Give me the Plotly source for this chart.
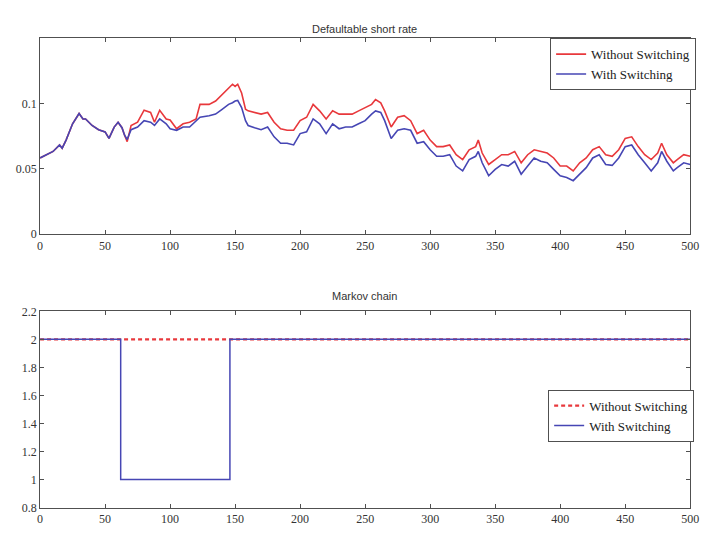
import plotly.graph_objects as go

# ---- data: defaultable short rate ----
t_rate = [0, 5, 10, 15, 17, 20, 25, 30, 33, 35, 40, 45, 50, 53, 57, 60, 63, 65, 67, 70,
          75, 80, 85, 88, 92, 97, 100, 105, 110, 115, 120, 123, 130, 135, 140, 145, 148,
          150, 152, 155, 158, 160, 165, 170, 175, 180, 185, 190, 195, 200, 205, 210, 215,
          220, 225, 230, 235, 240, 245, 250, 255, 258, 262, 265, 270, 275, 280, 285, 290,
          295, 300, 305, 310, 315, 320, 325, 330, 335, 337, 340, 345, 350, 355, 360, 365,
          370, 375, 380, 385, 390, 395, 400, 405, 410, 415, 420, 425, 430, 435, 440, 445,
          450, 455, 460, 465, 470, 475, 478, 482, 487, 490, 495, 500]

rate_with = [0.0584, 0.0609, 0.0634, 0.0684, 0.0659, 0.0721, 0.0846, 0.0925, 0.0883, 0.0883,
             0.0833, 0.0801, 0.0784, 0.0734, 0.0821, 0.0858, 0.0816, 0.0758, 0.0726, 0.0801,
             0.0821, 0.0870, 0.0858, 0.0833, 0.0883, 0.0846, 0.0808, 0.0796, 0.0821, 0.0821,
             0.0870, 0.0896, 0.0908, 0.0920, 0.0957, 0.0995, 0.1007, 0.1020, 0.1025, 0.0970,
             0.0870, 0.0833, 0.0816, 0.0801, 0.0821, 0.0746, 0.0697, 0.0697, 0.0684, 0.0771,
             0.0784, 0.0883, 0.0846, 0.0771, 0.0846, 0.0808, 0.0821, 0.0821, 0.0846, 0.0870,
             0.0920, 0.0945, 0.0933, 0.0870, 0.0734, 0.0796, 0.0808, 0.0796, 0.0697, 0.0709,
             0.0647, 0.0597, 0.0597, 0.0609, 0.0522, 0.0485, 0.0572, 0.0597, 0.0634, 0.0547,
             0.0448, 0.0497, 0.0534, 0.0522, 0.0559, 0.0460, 0.0522, 0.0584, 0.0559, 0.0547,
             0.0497, 0.0448, 0.0435, 0.0410, 0.0460, 0.0510, 0.0584, 0.0609, 0.0534, 0.0527,
             0.0584, 0.0671, 0.0684, 0.0609, 0.0547, 0.0485, 0.0547, 0.0634, 0.0559, 0.0485,
             0.0510, 0.0547, 0.0534]

rate_without = [0.0584, 0.0609, 0.0634, 0.0684, 0.0659, 0.0721, 0.0846, 0.0925, 0.0883, 0.0883,
                0.0833, 0.0801, 0.0784, 0.0734, 0.0821, 0.0858, 0.0816, 0.0758, 0.0709, 0.0833,
                0.0858, 0.0950, 0.0933, 0.0858, 0.0950, 0.0883, 0.0875, 0.0808, 0.0846, 0.0858,
                0.0883, 0.0995, 0.0995, 0.1020, 0.1070, 0.1119, 0.1149, 0.1132, 0.1149, 0.1082,
                0.0957, 0.0945, 0.0933, 0.0920, 0.0933, 0.0858, 0.0808, 0.0796, 0.0796, 0.0870,
                0.0896, 0.0995, 0.0945, 0.0883, 0.0945, 0.0920, 0.0920, 0.0920, 0.0945, 0.0970,
                0.0995, 0.1032, 0.1007, 0.0945, 0.0821, 0.0896, 0.0908, 0.0870, 0.0771, 0.0796,
                0.0721, 0.0671, 0.0671, 0.0684, 0.0609, 0.0572, 0.0647, 0.0671, 0.0721, 0.0622,
                0.0534, 0.0572, 0.0609, 0.0609, 0.0634, 0.0547, 0.0609, 0.0647, 0.0634, 0.0622,
                0.0584, 0.0522, 0.0522, 0.0485, 0.0547, 0.0584, 0.0647, 0.0671, 0.0609, 0.0597,
                0.0647, 0.0734, 0.0746, 0.0671, 0.0609, 0.0572, 0.0622, 0.0697, 0.0609, 0.0547,
                0.0572, 0.0609, 0.0597]

# ---- data: Markov chain states ----
t_chain_without = [0, 500]
chain_without = [2, 2]
t_chain_with = [0, 62, 62, 146, 146, 500]
chain_with = [2, 2, 1, 1, 2, 2]

x_ticks = [0, 50, 100, 150, 200, 250, 300, 350, 400, 450, 500]
rate_ticks = [0, 0.05, 0.1]
rate_tick_text = ["0", "0.05", "0.1"]
chain_ticks = [0.8, 1, 1.2, 1.4, 1.6, 1.8, 2, 2.2]
chain_tick_text = ["0.8", "1", "1.2", "1.4", "1.6", "1.8", "2", "2.2"]

RED = "#e8383c"
BLUE = "#4646b4"
AX = "#505050"
SERIF = "Liberation Serif, Times New Roman, serif"
SANS = "Liberation Sans, Arial, sans-serif"

fig = go.Figure()
fig.add_trace(go.Scatter(x=t_rate, y=rate_without, mode="lines", name="Without Switching",
                         line=dict(color=RED, width=1.6), xaxis="x", yaxis="y", legend="legend"))
fig.add_trace(go.Scatter(x=t_rate, y=rate_with, mode="lines", name="With Switching",
                         line=dict(color=BLUE, width=1.6), xaxis="x", yaxis="y", legend="legend"))
fig.add_trace(go.Scatter(x=t_chain_without, y=chain_without, mode="lines", name="Without Switching",
                         line=dict(color=RED, width=2.2, dash="4px,3px"), xaxis="x2", yaxis="y2",
                         legend="legend2"))
fig.add_trace(go.Scatter(x=t_chain_with, y=chain_with, mode="lines", name="With Switching",
                         line=dict(color=BLUE, width=1.5), xaxis="x2", yaxis="y2",
                         legend="legend2"))

xd = [37.7 / 712, 699 / 712]
axis_common = dict(showline=True, linecolor=AX, linewidth=1, mirror="ticks", ticks="inside",
                   ticklen=4, tickcolor=AX, showgrid=False, zeroline=False,
                   tickfont=dict(family=SERIF, size=12, color="#333333"))

legend_common = dict(xanchor="right", yanchor="top", bgcolor="white", bordercolor=AX,
                     borderwidth=1, font=dict(family=SERIF, size=13, color="#222222"),
                     tracegroupgap=0, itemwidth=30)

fig.update_layout(
    width=712, height=534,
    margin=dict(l=0, r=0, t=0, b=0),
    paper_bgcolor="white", plot_bgcolor="white",
    xaxis=dict(domain=xd, range=[0, 500], tickvals=x_ticks, anchor="y", **axis_common),
    yaxis=dict(domain=[1 - 233.3 / 534, 1 - 32.3 / 534], range=[0, 0.15], tickvals=rate_ticks,
               ticktext=rate_tick_text, anchor="x", **axis_common),
    xaxis2=dict(domain=xd, range=[0, 500], tickvals=x_ticks, anchor="y2", **axis_common),
    yaxis2=dict(domain=[1 - 514 / 534, 1 - 312.5 / 534], range=[0.8, 2.2], tickvals=chain_ticks,
                ticktext=chain_tick_text, anchor="x2", **axis_common),
    legend=dict(x=705 / 712, y=1 - 32 / 534, **legend_common),
    legend2=dict(x=703 / 712, y=1 - 393 / 534, **legend_common),
    showlegend=True,
    annotations=[
        dict(text="Defaultable short rate", x=368 / 712, y=1 - 14 / 534, xref="paper", yref="paper",
             showarrow=False, font=dict(family=SANS, size=11, color="#333333")),
        dict(text="Markov chain", x=368 / 712, y=1 - 297 / 534, xref="paper", yref="paper",
             showarrow=False, font=dict(family=SANS, size=11, color="#333333")),
    ],
)

fig.write_html("out.html")
